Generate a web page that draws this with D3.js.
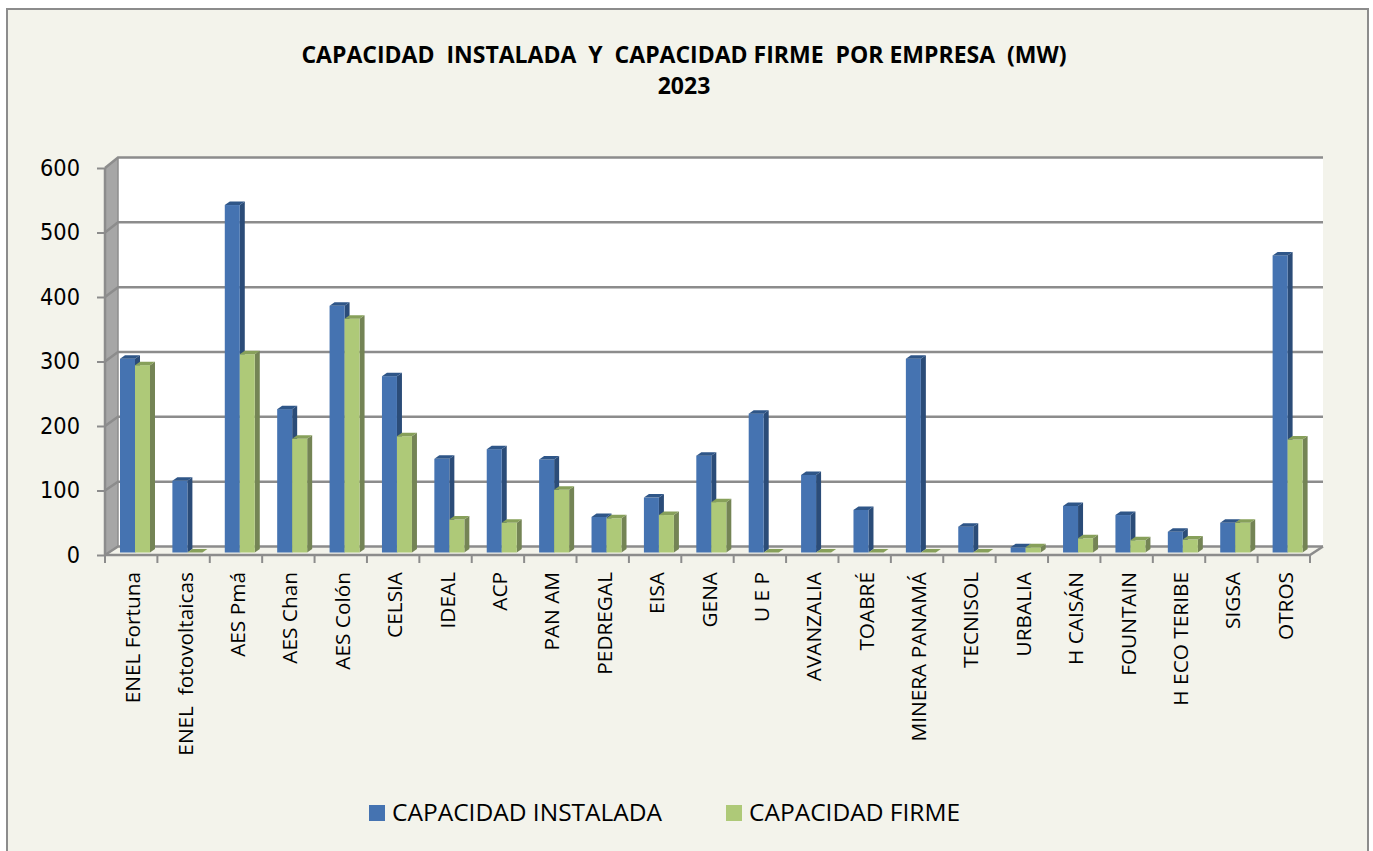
<!DOCTYPE html>
<html>
<head>
<meta charset="utf-8">
<script src="https://cdn.jsdelivr.net/npm/d3@7"></script>
<style>
  html, body { margin: 0; padding: 0; background: #fff; }
  svg { display: block; }
  text { white-space: pre; }
</style>
</head>
<body>
<script>
// ─── DATA ───────────────────────────────────────────────
const empresas = ["ENEL Fortuna", "ENEL  fotovoltaicas", "AES Pmá", "AES Chan", "AES Colón", "CELSIA",
  "IDEAL", "ACP", "PAN AM", "PEDREGAL", "EISA", "GENA", "U E P", "AVANZALIA", "TOABRÉ",
  "MINERA PANAMÁ", "TECNISOL", "URBALIA", "H CAISÁN", "FOUNTAIN", "H ECO TERIBE", "SIGSA", "OTROS"];
const instalada = [300, 111, 538, 222, 382, 273, 145, 160, 144, 55, 85, 150, 215, 120, 66, 300, 40, 8, 72, 58, 32, 46, 460];
const firme = [290, 0, 307, 176, 362, 180, 51, 46, 97, 53, 58, 78, 0, 0, 0, 0, 0, 8, 22, 19, 20, 46, 175];
const yTicks = [0, 100, 200, 300, 400, 500, 600];
const titulo = ["CAPACIDAD  INSTALADA  Y  CAPACIDAD FIRME  POR EMPRESA  (MW)", "2023"];
const serieNombres = ["CAPACIDAD INSTALADA", "CAPACIDAD FIRME"];

// ─── SETUP ──────────────────────────────────────────────
const width = 1373, height = 851;
const bg = "#f3f3eb", edge = "#8c8c8c";
const font = "'Open Sans', sans-serif";

const svg = d3.select("body").append("svg").attr("width", width).attr("height", height);

// outer frame, open at the bottom like the cropped original
svg.append("rect").attr("x", 7).attr("y", 9).attr("width", 1361).attr("height", 860)
  .attr("fill", bg).attr("stroke", edge).attr("stroke-width", 2);

const x = d3.scaleBand().domain(empresas).range([105, 1310]);
const yFront = d3.scaleLinear().domain([0, 600]).range([555, 168]);
const yBack = d3.scaleLinear().domain([0, 600]).range([546.5, 157.5]);
const yBar = d3.scaleLinear().domain([0, 600]).range([552.5, 165]);
const depthX = 13;

// ─── WALLS ──────────────────────────────────────────────
const poly = pts => pts.map(p => p.join(",")).join(" ");

svg.append("rect").attr("x", 105 + depthX).attr("y", yBack(600))
  .attr("width", 1205).attr("height", yBack(0) - yBack(600)).attr("fill", "#fff");

svg.append("polygon")
  .attr("points", poly([[105, yFront(600)], [118, yBack(600)], [118, yBack(0)], [105, yFront(0)]]))
  .attr("fill", "#a6a6a6");

svg.append("polygon")
  .attr("points", poly([[105, yFront(0)], [118, yBack(0)], [1323, yBack(0)], [1310, yFront(0)]]))
  .attr("fill", bg);

// gridlines, back wall plus the diagonal across the left wall
const grid = svg.append("g").attr("fill", "none").attr("stroke", edge).attr("stroke-width", 2.5);
yTicks.forEach(t => {
  grid.append("path").attr("d", d3.line()([[105, yFront(t)], [118, yBack(t)], [1323, yBack(t)]]));
});
grid.append("path").attr("d", d3.line()([[105, yFront(0)], [1310, yFront(0)], [1323, yBack(0)]]));
grid.append("path").attr("d", d3.line()([[105, yFront(600)], [105, yFront(0)]]));
grid.append("path").attr("d", d3.line()([[118, yBack(600)], [118, yBack(0)]])).attr("stroke-width", 1.5);

// ─── BARS ───────────────────────────────────────────────
const barW = 15, dx = 5, dy = 3.5;
const estilos = [
  { values: instalada, front: "#4573b1", side: "#2b4c78", top: "#2f5688", off: 15 },
  { values: firme, front: "#aec978", side: "#748455", top: "#87a05a", off: 30 }
];

const barsG = svg.append("g");
empresas.forEach((e, i) => {
  estilos.forEach(s => {
    const x0 = x(e) + s.off, x1 = x0 + barW;
    const y0 = yBar(0), y1 = yBar(s.values[i]);
    const g = barsG.append("g");
    if (s.values[i] > 0) {
      g.append("polygon")
        .attr("points", poly([[x1, y1], [x1 + dx, y1 - dy], [x1 + dx, y0 - dy], [x1, y0]]))
        .attr("fill", s.side);
      g.append("rect").attr("x", x0).attr("y", y1).attr("width", barW).attr("height", y0 - y1)
        .attr("fill", s.front);
    }
    g.append("polygon")
      .attr("points", poly([[x0, y1], [x0 + dx, y1 - dy], [x1 + dx, y1 - dy], [x1, y1]]))
      .attr("fill", s.top);
  });
});

// ─── AXES ───────────────────────────────────────────────
const yAxis = svg.append("g").attr("transform", "translate(105,0)")
  .call(d3.axisLeft(yFront).tickValues(yTicks).tickSize(8).tickPadding(17));
yAxis.select(".domain").remove();
yAxis.selectAll("line").attr("stroke", edge).attr("stroke-width", 2);
yAxis.selectAll("text").attr("font-family", "'DejaVu Sans'").attr("font-size", 23).attr("fill", "#000")
  .attr("textLength", d => d === 0 ? 13.3 : 40).attr("lengthAdjust", "spacingAndGlyphs");

const xAxis = svg.append("g").attr("transform", `translate(0,${yFront(0)})`)
  .call(d3.axisBottom(x).tickSize(0));
xAxis.select(".domain").remove();
xAxis.selectAll("text")
  .attr("font-family", font).attr("font-size", 20.8).attr("fill", "#000")
  .attr("text-anchor", "end").attr("dy", null)
  .attr("transform", "translate(9,17) rotate(-90)")
  .attr("x", 0).attr("y", 0);

// tick marks sit on the category edges, not the centres
svg.append("g").selectAll("line").data(empresas.concat(["fin"])).join("line")
  .attr("x1", (d, i) => 105 + i * x.step()).attr("x2", (d, i) => 105 + i * x.step())
  .attr("y1", yFront(0)).attr("y2", yFront(0) + 8)
  .attr("stroke", edge).attr("stroke-width", 2);

// ─── TITLE & LEGEND ─────────────────────────────────────
svg.append("g").selectAll("text").data(titulo).join("text")
  .attr("x", 684).attr("y", (d, i) => 63 + i * 31)
  .attr("text-anchor", "middle")
  .attr("font-family", font).attr("font-weight", 700).attr("font-size", 23).attr("fill", "#000")
  .text(d => d);

const legendX = [369, 726];
const legend = svg.append("g").selectAll("g").data(serieNombres).join("g")
  .attr("transform", (d, i) => `translate(${legendX[i]},805)`);
legend.append("rect").attr("width", 16).attr("height", 16)
  .attr("fill", (d, i) => estilos[i].front);
legend.append("text").attr("x", 23).attr("y", 16)
  .attr("font-family", font).attr("font-size", 24.5).attr("fill", "#000")
  .text(d => d);
</script>
</body>
</html>
